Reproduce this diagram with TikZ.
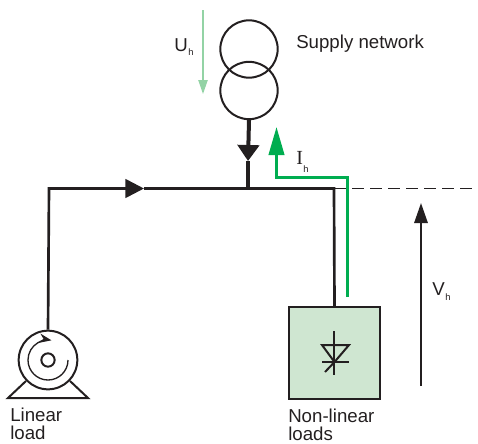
\documentclass[tikz,border=0pt]{standalone}
\usepackage{fontspec}
\setmainfont{Liberation Sans}
\newfontfamily\seriffont{Liberation Serif}
\usetikzlibrary{arrows.meta,shapes.geometric}
\definecolor{harmgreen}{HTML}{00AD50}
\definecolor{palegreen}{HTML}{93D3A5}
\definecolor{boxgreen}{HTML}{CFE6D1}
\definecolor{inkblack}{HTML}{231F20}
\tikzset{
  >=Stealth,
  winding/.style={draw=inkblack,circle,line width=1.5pt,minimum size=43pt,inner sep=0pt},
  wire/.style={draw=inkblack,line width=2pt},
  thin wire/.style={draw=inkblack,line width=1.5pt},
  lab/.style={font=\fontsize{14}{13}\selectfont,text=inkblack,align=left,inner sep=0pt},
  sub/.style={font=\fontsize{7}{7}\selectfont,text=inkblack,inner sep=0pt}
}
\begin{document}
\begin{tikzpicture}[x=0.75pt,y=-0.75pt]
\useasboundingbox (0,0) rectangle (478,443);
% supply side
\node[winding](upper)at(249,49){};
\node[winding](lower)at(249,90.5){};
\coordinate(feed)at(248,188.5);
\coordinate(feedtip)at(248,161);
\coordinate(corner)at(49,188.5);
\coordinate(bustip)at(144,188.5);
\coordinate(tap)at(334,188.5);
\coordinate(open)at(478,188.5);
\draw[inkblack,line width=3pt,-{Triangle[length=12pt,width=16pt]}](lower.south)--(feedtip);
\draw[inkblack,line width=3pt](feedtip)--(feed);
% motor
\node[winding,minimum size=44pt](motor)at(48,360){};
\node[draw=inkblack,circle,line width=1.5pt,minimum size=10pt,inner sep=0pt](shaft)at(48,360){};
\coordinate(footl)at(8,398);
\coordinate(footr)at(88,398);
\draw[thin wire,line join=miter](26,381)--(footl)--(footr)--(70,381);
\draw[inkblack,line width=1pt,-{Stealth[length=9pt,width=7pt]}](68,360)arc[start angle=0,end angle=280,radius=20];
% load
\node[draw=inkblack,fill=boxgreen,line width=1.5pt,minimum width=68.5pt,minimum height=68.5pt,inner sep=0pt](load)at(334.5,353){};
\draw[thin wire](334,331)--(334,375);
\draw[thin wire,line join=miter](322,345)--(349,345)--(334.5,362)--cycle;
\draw[thin wire](322,362)--(349,362);
\draw[thin wire](334.5,362)--(325,372);
% bus
\draw[wire,line cap=butt,-{Triangle[length=14pt,width=14pt]}](motor.north)--(corner)--(bustip);
\draw[wire](bustip)--(tap)--(load.north);
\draw[inkblack,line width=1.3pt,dash pattern=on 9pt off 4.5pt](tap)--(open);
% harmonic current
\draw[harmgreen,line width=2.25pt,-{Triangle[length=21pt,width=11.5pt]}](347.5,297)--(347.5,177.5)--(276.5,177.5)--(276.5,127);
\draw[palegreen,line width=1pt,-{Triangle[length=10.5pt,width=7pt]}](203,10)--(203,94);
\draw[inkblack,line width=1.5pt,-{Triangle[length=15pt,width=10pt]}](421,386)--(421,203);
% labels
\node[lab,anchor=base west](supply)at(296,48){Supply network};
\node[lab,anchor=base west](ulab)at(174,51){U};
\node[sub,anchor=base west](usub)at(188,55){h};
\node[lab,anchor=base west,font=\fontsize{15}{15}\selectfont\seriffont](ilab)at(296,164){I};
\node[sub,anchor=base west](isub)at(303,172){h};
\node[lab,anchor=base west](vlab)at(432,295){V};
\node[sub,anchor=base west](vsub)at(445,300){h};
\node[lab,anchor=north west](linlab)at(10,408){Linear\\load};
\node[lab,anchor=north west](nonlab)at(288,409){Non-linear\\loads};
\end{tikzpicture}
\end{document}
